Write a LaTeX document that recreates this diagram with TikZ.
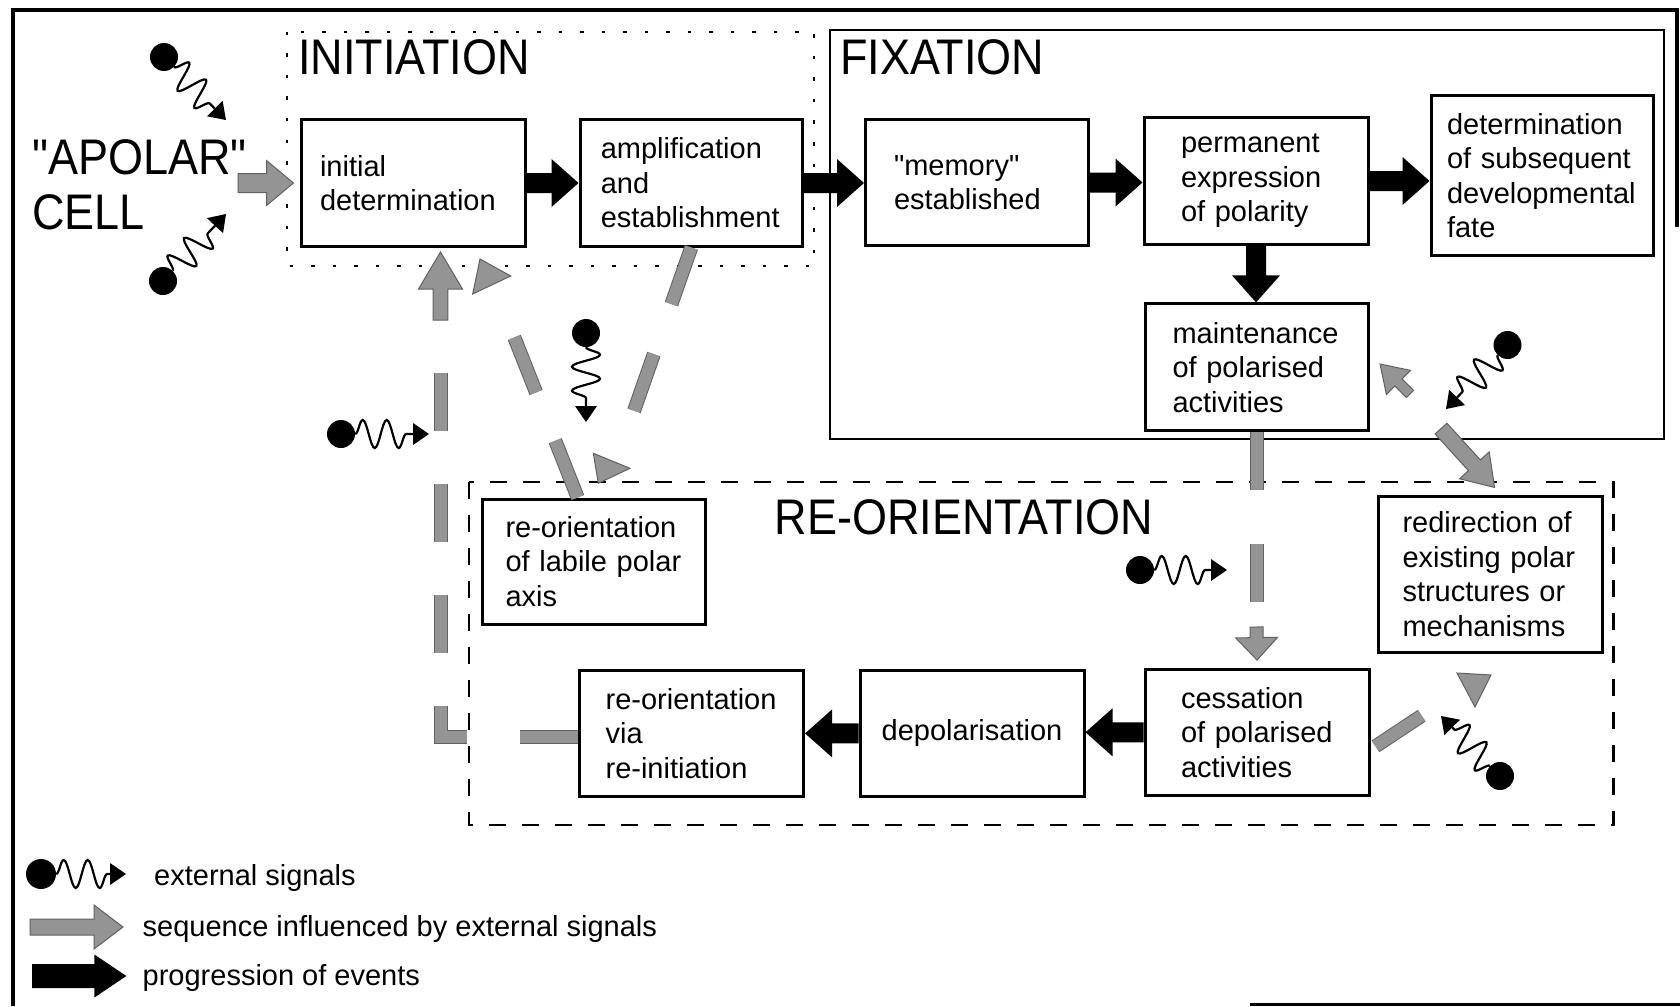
\documentclass[tikz,border=0pt]{standalone}
\usepackage{fontspec}
\setmainfont{Liberation Sans}
\newfontfamily\plainfont{Liberation Sans}
\newfontfamily\titlefont[FakeStretch=0.9]{Liberation Sans}
\usetikzlibrary{calc,decorations.pathmorphing}

\newcommand\boxfont{\plainfont\fontsize{29}{34.5}\selectfont\hyphenpenalty=10000 }

% filled arrow outline: [style]{from}{to}{shaft half-width}{head half-width}{head length}
\newcommand\blockarrow[6][]{%
  \coordinate (ba-s) at (#2);
  \coordinate (ba-e) at (#3);
  \coordinate (ba-b) at ($(ba-e)!#6!(ba-s)$);
  \filldraw[#1] ($(ba-s)!#4!90:(ba-e)$) -- ($(ba-b)!#4!90:(ba-e)$)
    -- ($(ba-b)!#5!90:(ba-e)$) -- (ba-e) -- ($(ba-b)!#5!-90:(ba-e)$)
    -- ($(ba-b)!#4!-90:(ba-e)$) -- ($(ba-s)!#4!-90:(ba-e)$) -- cycle;
}

% external signal: dot, wavy line and small black head
\newcommand\signal[4][28pt]{%
  \node[sigdot, minimum size=#1] (#2) at (#3) {};
  \coordinate (#2-tip) at (#4);
  \coordinate (#2-base) at ($(#2-tip)!16pt!(#2)$);
  \draw[wave] (#2) -- (#2-base);
  \fill (#2-tip) -- ($(#2-base)!11pt!90:(#2-tip)$) -- ($(#2-base)!11pt!-90:(#2-tip)$) -- cycle;
}

\begin{document}
\begin{tikzpicture}[x=1pt,y=-1pt,
  stagebox/.style={draw, line width=3pt, inner sep=0pt, align=left, font=\boxfont},
  title/.style={font=\titlefont\fontsize{50}{55}\selectfont, inner sep=0pt, anchor=base west},
  legendtext/.style={font=\boxfont, inner sep=0pt, anchor=base west},
  blackfill/.style={fill=black, draw=none},
  greyfill/.style={fill=black!42, draw=black!62, line width=1pt},
  greydash/.style={preaction={draw=black!62, line width=14pt, dash pattern=#1},
                   draw=black!42, line width=12pt, dash pattern=#1},
  greybar/.style={preaction={draw=black!62, line width=14pt}, draw=black!42, line width=12pt},
  sigdot/.style={circle, fill=black, inner sep=0pt},
  wave/.style={line width=2.2pt, decorate, decoration={snake, segment length=24pt, amplitude=14pt}}]

\useasboundingbox (0,0) rectangle (1680,1006);

% outer frame
\draw[line width=4pt] (13,1006) -- (13,10) -- (1677,10) -- (1677,227);
\draw[line width=3pt] (1250,1004) -- (1680,1004);

% stage frames
\draw[line width=2.5pt, dash pattern=on 3.5pt off 18pt] (287,32) rectangle (814,266);
\draw[line width=2pt] (830,30) rectangle (1664,439);
\draw[line width=2.5pt, dash pattern=on 17pt off 16pt] (469,482) rectangle (1613.5,825);

% stage titles
\node[title] (tInit) at (298,75) {INITIATION};
\node[title] (tFix) at (840,75) {FIXATION};
\node[title] (tReo) at (774.6,534.6) {RE-ORIENTATION};
\node[title] (tApolar) at (32,174.6) {"APOLAR"};
\node[title] (tCell) at (32,229.3) {CELL};

% stage boxes
\node[stagebox, minimum width=224pt, minimum height=126pt, text width=186pt] (initial) at (413,183) {initial\\determination};
\node[stagebox, minimum width=222.5pt, minimum height=126pt, text width=181pt] (amp) at (691.25,183) {amplification\\and\\establishment};
\node[stagebox, minimum width=223pt, minimum height=125pt, text width=166pt] (memory) at (977,182.5) {"memory"\\established};
\node[stagebox, minimum width=224pt, minimum height=126pt, text width=150pt] (perm) at (1256,181) {permanent\\expression\\of polarity};
\node[stagebox, minimum width=222pt, minimum height=159pt, text width=190pt] (det) at (1542,175.5) {determination\\of subsequent\\developmental\\fate};
\node[stagebox, minimum width=223pt, minimum height=127pt, text width=168pt] (maint) at (1256.5,367.4) {maintenance\\of polarised\\activities};
\node[stagebox, minimum width=223pt, minimum height=125pt, text width=176pt] (labile) at (593.5,561.5) {re-orientation\\of labile polar\\axis};
\node[stagebox, minimum width=224pt, minimum height=156.5pt, text width=175pt] (redir) at (1490,574.3) {redirection of\\existing polar\\structures or\\mechanisms};
\node[stagebox, minimum width=224pt, minimum height=125.4pt, text width=152pt] (cess) at (1257,732.3) {cessation\\of polarised\\activities};
\node[stagebox, minimum width=224pt, minimum height=125.3pt, align=center] (depol) at (972,733.4) {depolarisation};
\node[stagebox, minimum width=224pt, minimum height=125.3pt, text width=172pt] (via) at (691.6,733.4) {re-orientation\\via\\re-initiation};

% free ends of the grey sequences
\coordinate (apolarOut) at (238,183);
\coordinate (upFoot) at (440.5,320);
\coordinate (upTip) at (440.5,252);
\coordinate (ampDrop) at (633.8,411.4);
\coordinate (labRise) at (514.3,337.4);
\coordinate (maintDrop) at (1256.5,602);
\coordinate (cessStub) at (1256.5,627);
\coordinate (fixOut) at (1441,428.6);
\coordinate (redirIn) at (1494.6,487.5);
\coordinate (cessOut) at (1421.7,715.7);
\coordinate (maintBackFoot) at (1410,394);
\coordinate (maintBackTip) at (1380,364);

% grey sequences influenced by external signals
\blockarrow[greyfill]{apolarOut}{$(initial.west)+(-6,0)$}{9.5pt}{22.5pt}{27pt}
\draw[greydash={on 58pt off 53pt}] ($(via.west)+(0,4)$) -| (upFoot);
\blockarrow[greyfill]{upFoot}{upTip}{7.3pt}{22pt}{37pt}
\draw[greydash={on 60pt off 53pt}] (amp.south) -- (ampDrop);
\filldraw[greyfill] (593.3,453.3) -- (630,468.3) -- (598.3,483.3) -- cycle;
\draw[greydash={on 61pt off 52pt}] ($(labile.north west)!0.43!(labile.north east)$) -- (labRise);
\filldraw[greyfill] (480,259) -- (510.7,276) -- (472.7,294) -- cycle;
\draw[greydash={on 58pt off 54pt}] (maint.south) -- (maintDrop);
\blockarrow[greyfill]{cessStub}{$(cess.north)+(0,-8)$}{6.5pt}{21pt}{22.5pt}
\blockarrow[greyfill]{fixOut}{redirIn}{8pt}{20pt}{30pt}
\blockarrow[greyfill]{maintBackFoot}{maintBackTip}{5pt}{17pt}{26pt}
\filldraw[greyfill] (1457,673) -- (1491,675) -- (1475,707) -- cycle;
\draw[greybar] ($(cess.east)+(5,14)$) -- (cessOut);

% progression of events
\blockarrow[blackfill]{initial.east}{amp.west}{10pt}{24pt}{27pt}
\blockarrow[blackfill]{amp.east}{amp.east -| memory.west}{10pt}{24pt}{27pt}
\blockarrow[blackfill]{memory.east}{memory.east -| perm.west}{10pt}{24pt}{27pt}
\blockarrow[blackfill]{perm.east}{perm.east -| det.west}{10pt}{24pt}{27pt}
\blockarrow[blackfill]{perm.south}{perm.south |- maint.north}{10pt}{24pt}{27pt}
\blockarrow[blackfill]{cess.west}{cess.west -| depol.east}{10pt}{24pt}{27pt}
\blockarrow[blackfill]{depol.west}{depol.west -| via.east}{10pt}{24pt}{27pt}

% external signals
\signal{sigA}{164,57}{226,120}
\signal{sigB}{163,281}{226,214}
\signal{sigC}{341,434}{429,434}
\signal{sigD}{586,333}{586,422}
\signal{sigE}{1507.5,345}{1446,409}
\signal{sigF}{1140,570}{1227,570}
\signal{sigG}{1500,776}{1441,716}

% legend
\signal[30pt]{legSig}{41,874}{126,874}
\node[legendtext] (legSigText) at (154,885) {external signals};
\coordinate (legGreyA) at (30,927);
\coordinate (legGreyB) at (123,927);
\blockarrow[greyfill]{legGreyA}{legGreyB}{8pt}{22pt}{29pt}
\node[legendtext] (legGreyText) at (142.5,936.4) {sequence influenced by external signals};
\coordinate (legBlackA) at (32,976);
\coordinate (legBlackB) at (126.4,976);
\blockarrow[blackfill]{legBlackA}{legBlackB}{12pt}{21.5pt}{32pt}
\node[legendtext] (legBlackText) at (142.5,985.7) {progression of events};

\end{tikzpicture}
\end{document}
